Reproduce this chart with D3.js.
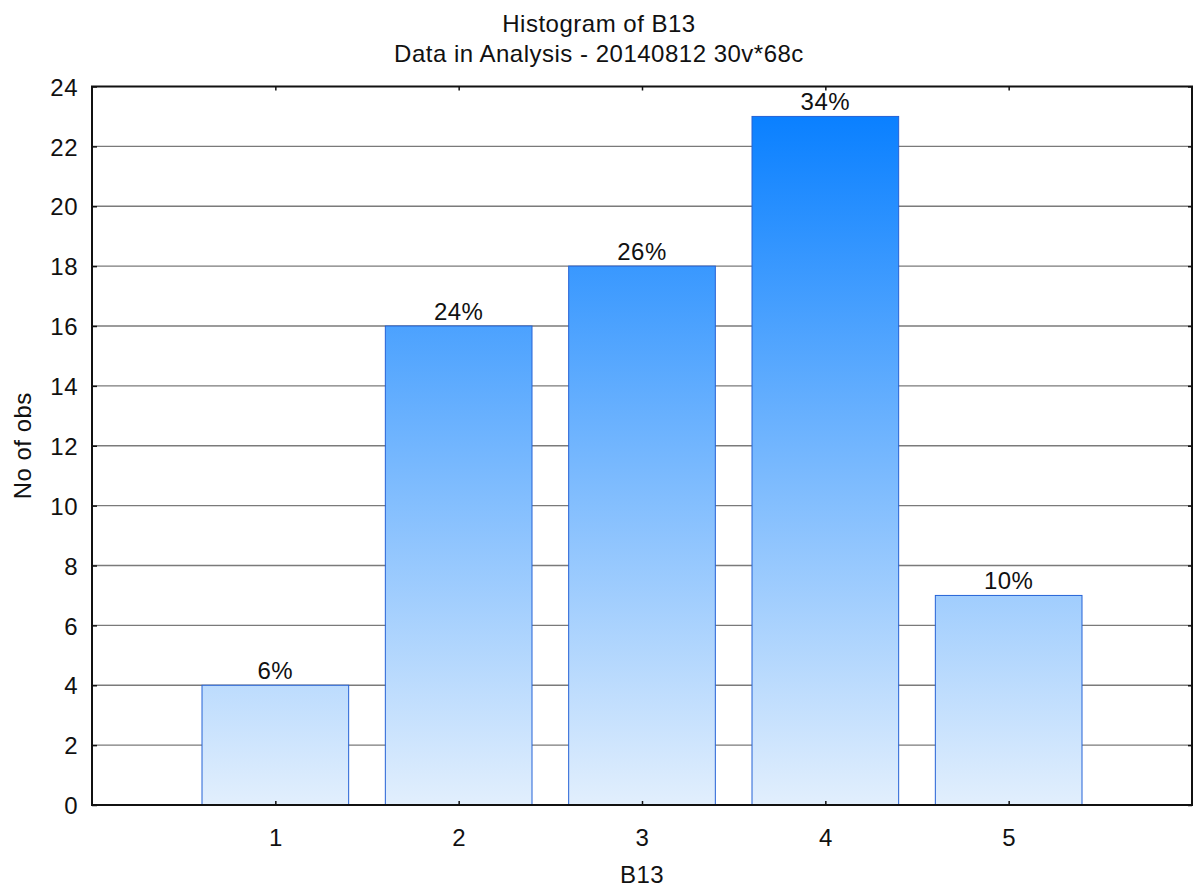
<!DOCTYPE html>
<html>
<head>
<meta charset="utf-8">
<script src="https://cdn.jsdelivr.net/npm/d3@7"></script>
<style>
  html, body { margin: 0; padding: 0; background: #fff; }
  svg { display: block; font-family: "Liberation Sans", Arial, sans-serif; }
  text { letter-spacing: 0.5px; }
</style>
</head>
<body>
<svg id="chart" width="1198" height="889"></svg>
<script>
const categories = [1, 2, 3, 4, 5];
const counts = [4, 16, 18, 23, 7];
const percentLabels = ["6%", "24%", "26%", "34%", "10%"];
const yTicks = [0, 2, 4, 6, 8, 10, 12, 14, 16, 18, 20, 22, 24];
const titleLines = ["Histogram of B13", "Data in Analysis - 20140812 30v*68c"];
const xTitle = "B13";
const yTitle = "No of obs";

const svg = d3.select("#chart");
const W = 1198, H = 889;
const m = { left: 92, right: 1192, top: 86.5, bottom: 805 };
const FS = 24;

const x = d3.scaleLinear().domain([0, 6]).range([m.left, m.right]);
const y = d3.scaleLinear().domain([0, 24]).range([m.bottom, m.top]);

const defs = svg.append("defs");
const grad = defs.append("linearGradient")
  .attr("id", "barGrad")
  .attr("gradientUnits", "userSpaceOnUse")
  .attr("x1", 0).attr("x2", 0)
  .attr("y1", y(0)).attr("y2", y(d3.max(counts)));
grad.append("stop").attr("offset", "0%").attr("stop-color", "#e2effd");
grad.append("stop").attr("offset", "100%").attr("stop-color", "#0a80ff");

// gridlines
svg.append("g")
  .selectAll("line")
  .data(yTicks.filter(t => t > 0 && t < 24))
  .join("line")
  .attr("x1", m.left).attr("x2", m.right)
  .attr("y1", d => y(d)).attr("y2", d => y(d))
  .attr("stroke", "#7a7a7a").attr("stroke-width", 1.3);

// bars
const bw = x(0.8) - x(0);
svg.append("g")
  .selectAll("rect")
  .data(categories)
  .join("rect")
  .attr("x", d => x(d) - bw / 2)
  .attr("width", bw)
  .attr("y", (d, i) => y(counts[i]))
  .attr("height", (d, i) => y(0) - y(counts[i]))
  .attr("fill", "url(#barGrad)")
  .attr("stroke", "#2562d6")
  .attr("stroke-width", 1);

// percent labels
svg.append("g")
  .selectAll("text")
  .data(categories)
  .join("text")
  .attr("x", d => x(d))
  .attr("y", (d, i) => y(counts[i]) - 6)
  .attr("text-anchor", "middle")
  .attr("font-size", FS)
  .attr("fill", "#111")
  .text((d, i) => percentLabels[i]);

// frame
svg.append("rect")
  .attr("x", m.left).attr("y", m.top)
  .attr("width", m.right - m.left).attr("height", m.bottom - m.top)
  .attr("fill", "none").attr("stroke", "#111").attr("stroke-width", 2);

// axes with inward ticks
const yAxisL = d3.axisLeft(y).tickValues(yTicks).tickSize(-5).tickPadding(14);
const gL = svg.append("g").attr("transform", `translate(${m.left},0)`).call(yAxisL);
const yAxisR = d3.axisRight(y).tickValues(yTicks).tickSize(-4).tickFormat("");
const gR = svg.append("g").attr("transform", `translate(${m.right},0)`).call(yAxisR);
const xAxisB = d3.axisBottom(x).tickValues(categories).tickFormat(d3.format("d")).tickSize(-4).tickPadding(24);
const gB = svg.append("g").attr("transform", `translate(0,${m.bottom})`).call(xAxisB);
const xAxisT = d3.axisTop(x).tickValues(categories).tickSize(-4).tickFormat("");
const gT = svg.append("g").attr("transform", `translate(0,${m.top})`).call(xAxisT);

[gL, gR, gB, gT].forEach(g => {
  g.select(".domain").remove();
  g.selectAll(".tick line").attr("stroke", "#111").attr("stroke-width", 1.5);
  g.selectAll("text").attr("font-size", FS).attr("fill", "#111")
    .attr("font-family", "Liberation Sans, Arial, sans-serif");
});
gL.selectAll("text").attr("dy", "0.36em");
gB.selectAll("text").attr("dy", "0.71em");

// titles
svg.append("g")
  .selectAll("text")
  .data(titleLines)
  .join("text")
  .attr("x", W / 2)
  .attr("y", (d, i) => 32 + i * 30)
  .attr("text-anchor", "middle")
  .attr("font-size", FS)
  .attr("fill", "#111")
  .text(d => d);

svg.append("text")
  .attr("x", (m.left + m.right) / 2)
  .attr("y", 883)
  .attr("text-anchor", "middle")
  .attr("font-size", FS)
  .attr("fill", "#111")
  .text(xTitle);

svg.append("text")
  .attr("transform", `translate(31,${(m.top + m.bottom) / 2}) rotate(-90)`)
  .attr("text-anchor", "middle")
  .attr("font-size", FS)
  .attr("fill", "#111")
  .text(yTitle);
</script>
</body>
</html>
